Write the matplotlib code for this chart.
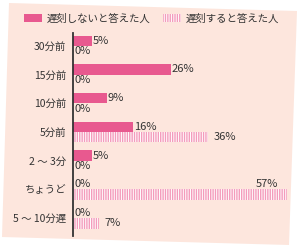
import matplotlib.pyplot as plt
import numpy as np
from matplotlib.patches import Polygon, Patch

plt.rcParams['font.family'] = ['Noto Sans CJK JP', 'DejaVu Sans']
plt.rcParams['hatch.linewidth'] = 1.0

categories = ["30分前", "15分前", "10分前", "5分前", "2 〜 3分", "ちょうど", "5 〜 10分遅"]
not_late = [5, 26, 9, 16, 5, 0, 0]
late = [0, 0, 0, 36, 0, 57, 7]
series_names = ["遅刻しないと答えた人", "遅刻すると答えた人"]

PINK = "#e8598f"
STRIPE = "#f49bbb"
BG = "#fde6dd"
TXT = "#333333"

W, H = 300, 249
fig = plt.figure(figsize=(W / 100, H / 100), dpi=100)
fig.patch.set_facecolor("white")

# slightly rotated paper behind the chart
paper = np.array([(9, 3), (297, 11), (289, 245), (2, 237)], dtype=float)
paper[:, 0] /= W
paper[:, 1] = 1 - paper[:, 1] / H
fig.patches.append(Polygon(paper, closed=True, transform=fig.transFigure,
                           facecolor=BG, edgecolor="none", zorder=-5))

ax = fig.add_axes([73 / W, 1 - 236 / H, 222 / W, 203 / H])
ax.set_zorder(2)
ax.patch.set_visible(False)

y = np.arange(len(categories))
h = 0.36
ax.barh(y - h / 2, not_late, height=h, color=PINK, edgecolor="none")
ax.barh(y + h / 2, late, height=h, color="white", edgecolor=STRIPE,
        hatch="|||||||", linewidth=0)

ax.set_xlim(0, 222 / 3.75)
ax.set_ylim(6.62, -0.45)

for i, (a, b) in enumerate(zip(not_late, late)):
    ax.text(a + 0.3, i - h / 2, f"{a}%", va="center", ha="left",
            fontsize=8, color=TXT)
    if b > 50:
        ax.text(b - 2.3, i - h / 2, f"{b}%", va="center", ha="right",
                fontsize=8, color=TXT)
    else:
        ax.text(b + 0.3 + (1.2 if b > 0 else 0), i + h / 2, f"{b}%",
                va="center", ha="left", fontsize=8, color=TXT)

ax.set_yticks(y)
ax.set_yticklabels(categories, fontsize=7.5, color=TXT)
ax.tick_params(axis="y", length=0, pad=5)
ax.set_xticks([])
for s in ["top", "right", "bottom"]:
    ax.spines[s].set_visible(False)
ax.spines["left"].set_color(TXT)
ax.spines["left"].set_linewidth(1.3)

handles = [Patch(facecolor=PINK, edgecolor="none"),
           Patch(facecolor="white", edgecolor=STRIPE, hatch="|||||||", linewidth=0)]
fig.legend(handles, series_names, ncol=2, frameon=False, fontsize=7.5,
           loc="center left", bbox_to_anchor=(24 / W, 1 - 18.5 / H),
           handlelength=1.7, handleheight=0.9, handletextpad=0.5,
           columnspacing=1.2, labelcolor=TXT, borderaxespad=0, borderpad=0)

fig.savefig("out.png", dpi=100)
